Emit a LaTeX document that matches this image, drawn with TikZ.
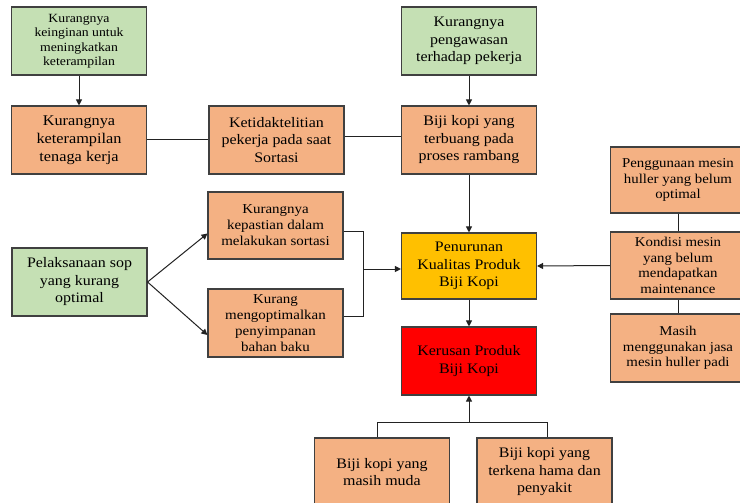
\documentclass[tikz,border=0pt]{standalone}
\usepackage{fontspec}
\setmainfont[FakeStretch=1.1]{Liberation Serif}
\usetikzlibrary{arrows.meta}
\definecolor{orangebox}{HTML}{F4B183}
\definecolor{greenbox}{HTML}{C5E0B4}
\definecolor{yellowbox}{HTML}{FFC000}
\definecolor{redbox}{HTML}{FF0000}
\definecolor{boxline}{HTML}{404040}
\definecolor{conline}{HTML}{222222}
\begin{document}
\begin{tikzpicture}[x=1pt,y=-1pt,
  box/.style={draw=boxline, line width=1.1pt, minimum width=135pt, minimum height=68pt,
    inner sep=0pt, align=center, font=\fontsize{14.5}{17.5}\selectfont, text=black},
  obox/.style={box, fill=orangebox},
  gbox/.style={box, fill=greenbox},
  rfont/.style={font=\fontsize{13.5}{15.5}\selectfont},
  mfont/.style={font=\fontsize{13.6}{16}\selectfont},
  conn/.style={draw=conline, line width=1pt},
  arr/.style={conn, -{Triangle[length=6pt,width=6pt]}}
]
\clip (0,0) rectangle (740,503);
\fill[white] (0,0) rectangle (740,503);

\node[gbox, font=\fontsize{12.5}{14.5}\selectfont] (g1) at (79,41) {Kurangnya\\keinginan untuk\\meningkatkan\\keterampilan};
\node[obox, font=\fontsize{14.8}{18}\selectfont] (b2) at (79,140) {Kurangnya\\keterampilan\\tenaga kerja};
\node[obox] (b3) at (276.5,140) {Ketidaktelitian\\pekerja pada saat\\Sortasi};
\node[gbox] (g4) at (469,41) {Kurangnya\\pengawasan\\terhadap pekerja};
\node[obox] (b5) at (469,140) {Biji kopi yang\\terbuang pada\\proses rambang};
\node[obox, rfont, minimum height=66pt] (b6) at (678,180) {Penggunaan mesin\\huller yang belum\\optimal};
\node[obox, rfont, minimum height=67pt] (b7) at (678,265.5) {Kondisi mesin\\yang belum\\mendapatkan\\maintenance};
\node[obox, rfont] (b8) at (678,348) {Masih\\menggunakan jasa\\mesin huller padi};
\node[box, fill=yellowbox, minimum height=66pt] (y9) at (469,266) {Penurunan\\Kualitas Produk\\Biji Kopi};
\node[box, fill=redbox] (r10) at (469,361) {Kerusan Produk\\Biji Kopi};
\node[obox] (b11) at (382,472) {Biji kopi yang\\masih muda};
\node[obox] (b12) at (544.5,472) {Biji kopi yang\\terkena hama dan\\penyakit};
\node[obox, mfont, minimum height=67pt] (b13) at (275.5,225.5) {Kurangnya\\kepastian dalam\\melakukan sortasi};
\node[obox, mfont] (b14) at (275.5,323) {Kurang\\mengoptimalkan\\penyimpanan\\bahan baku};
\node[gbox] (g15) at (79.5,282) {Pelaksanaan sop\\yang kurang\\optimal};

\coordinate (j1) at (363,269);
\coordinate (j2) at (469,422);

\draw[arr] (g1) -- (b2);
\draw[conn] (b2.east) -- (b3.west);
\draw[conn] ([yshift=3pt]b3.east) -- ([yshift=3pt]b5.west);
\draw[arr] (g4) -- (b5);
\draw[arr] (b5) -- (y9);
\draw[arr] (y9) -- (r10);
\draw[conn] (b6) -- (b7);
\draw[conn] (b7) -- (b8);
\draw[arr] (b7.west) -- (y9.east);
\draw[conn] ([yshift=-5.5pt]b13.east) -| (j1);
\draw[conn] ([yshift=7pt]b14.east) -| (j1);
\draw[arr] (j1) -- (y9.west |- j1);
\draw[arr] (g15.east) -- ([yshift=-8pt]b13.west);
\draw[arr] (g15.east) -- ([yshift=-12pt]b14.west);
\draw[conn] ([xshift=-5pt]b11.north) |- (j2);
\draw[conn] ([xshift=2.5pt]b12.north) |- (j2);
\draw[arr] (j2) -- (r10.south);
\end{tikzpicture}
\end{document}
